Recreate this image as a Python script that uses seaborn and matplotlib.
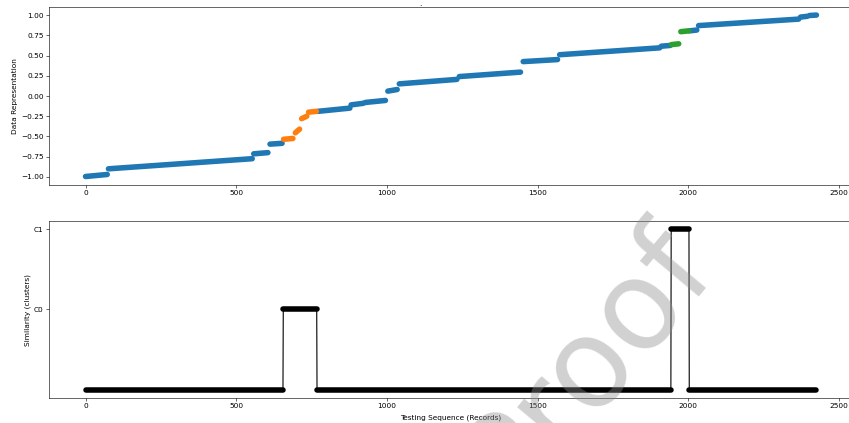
import matplotlib
matplotlib.use("Agg")
import pandas as pd
import matplotlib.pyplot as plt
import seaborn as sns

# top panel: runs of the sorted representation (record index -> value)
seg_start = [0, 76, 558, 612, 657, 696, 717, 740, 770, 881, 928, 1003,
             1041, 1240, 1452, 1573, 1910, 1944, 1975, 2004, 2034, 2372, 2402]
seg_end = [72, 553, 605, 652, 688, 710, 734, 766, 877, 922, 995, 1034,
           1232, 1443, 1566, 1905, 1940, 1968, 2001, 2028, 2366, 2395, 2425]
seg_y0 = [-0.995, -0.90, -0.715, -0.595, -0.535, -0.455, -0.28, -0.20,
          -0.19, -0.11, -0.08, 0.06, 0.15, 0.24, 0.425, 0.51, 0.615,
          0.635, 0.795, 0.805, 0.87, 0.975, 0.995]
seg_y1 = [-0.97, -0.775, -0.70, -0.585, -0.525, -0.41, -0.25, -0.19,
          -0.15, -0.09, -0.055, 0.08, 0.205, 0.295, 0.45, 0.595, 0.625,
          0.645, 0.805, 0.815, 0.95, 0.985, 1.0]
seg_cluster = [-1, -1, -1, -1, 0, 0, 0, 0, -1, -1, -1, -1,
               -1, -1, -1, -1, -1, 1, 1, -1, -1, -1, -1]

# bottom panel: cluster assigned to each run of records
run_start = [0, 656, 768, 1943, 2003]
run_end = [655, 767, 1942, 2002, 2425]
run_level = [-1, 0, -1, 1, -1]

cluster_ticks = [0, 1]
cluster_names = ["C0", "C1"]
value_ticks = [-1.0, -0.75, -0.5, -0.25, 0.0, 0.25, 0.5, 0.75, 1.0]
x_ticks = [0, 500, 1000, 1500, 2000, 2500]
palette = {-1: "#1f77b4", 0: "#ff7f0e", 1: "#2ca02c"}

rows = []
for k in range(len(seg_start)):
    rows.append({"idx": seg_start[k], "val": seg_y0[k], "cl": seg_cluster[k], "seg": k})
    rows.append({"idx": seg_end[k], "val": seg_y1[k], "cl": seg_cluster[k], "seg": k})
df_top = pd.DataFrame(rows)

rows = []
for k in range(len(run_start)):
    rows.append({"idx": run_start[k], "lvl": run_level[k], "run": k})
    rows.append({"idx": run_end[k], "lvl": run_level[k], "run": k})
df_bot = pd.DataFrame(rows)

dpi = 849 / 16
fig = plt.figure(figsize=(16, 7.972), dpi=dpi)
ax1 = fig.add_axes([49 / 849, 1 - 185 / 423, 804 / 849, 178 / 423])
ax2 = fig.add_axes([49 / 849, 1 - 398 / 423, 804 / 849, 177 / 423])

sns.lineplot(data=df_top, x="idx", y="val", hue="cl", units="seg",
             estimator=None, sort=False, palette=palette, linewidth=7.5,
             solid_capstyle="round", legend=False, ax=ax1)
ax1.set_yticks(value_ticks)
ax1.set_xticks(x_ticks)
ax1.set_xlim(-121.25, 2546.25)
ax1.set_ylim(-1.1, 1.1)
ax1.set_xlabel("")
ax1.set_ylabel("Data Representation")

# thin connector through all runs, then thick marker bands on each run
sns.lineplot(data=df_bot, x="idx", y="lvl", estimator=None, sort=False,
             color="black", linewidth=1.5, ax=ax2)
sns.lineplot(data=df_bot, x="idx", y="lvl", units="run", estimator=None,
             sort=False, color="black", linewidth=7.5,
             solid_capstyle="round", ax=ax2)
ax2.set_yticks(cluster_ticks)
ax2.set_yticklabels(cluster_names)
ax2.set_xticks(x_ticks)
ax2.set_xlim(-121.25, 2546.25)
ax2.set_ylim(-1.1, 1.1)
ax2.set_xlabel("Testing Sequence (Records)", labelpad=7)
ax2.set_ylabel("Similarity (clusters)")

fig.text(420 / 849, 1 - 5.5 / 423, ".", ha="center", va="baseline")
fig.text(0.692, 0.145, "Proof", rotation=50, fontsize=168, color="0.55",
         alpha=0.4, ha="center", va="center", rotation_mode="anchor",
         zorder=10)

fig.savefig("out.png", dpi=dpi)
